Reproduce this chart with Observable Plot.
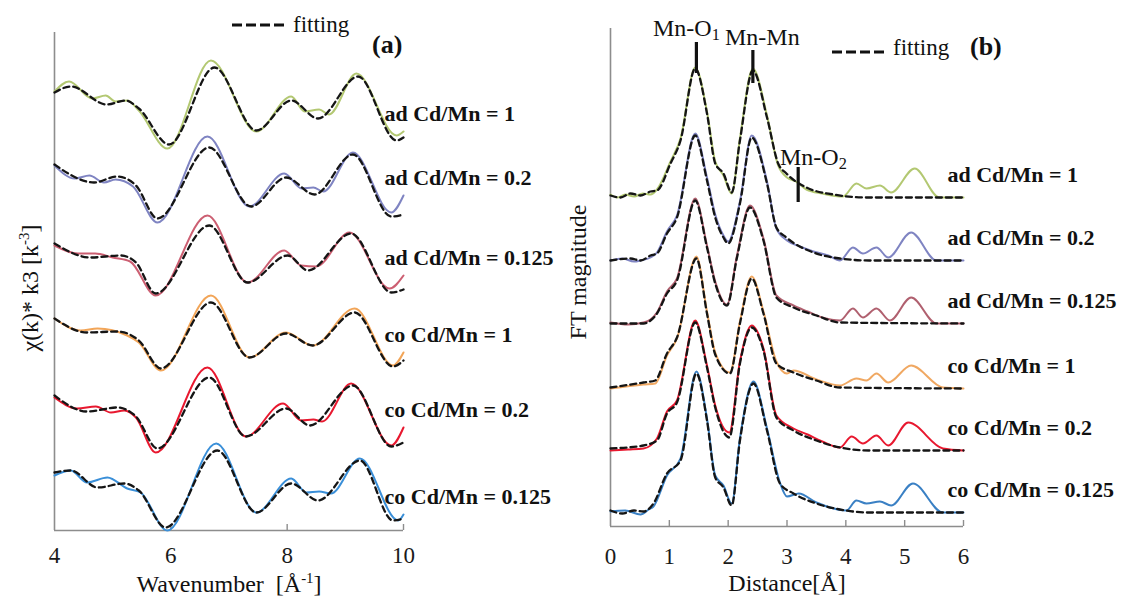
<!DOCTYPE html>
<html><head><meta charset="utf-8">
<script src="https://cdn.jsdelivr.net/npm/d3@7"></script>
<script src="https://cdn.jsdelivr.net/npm/@observablehq/plot@0.6"></script>
<style>
body{margin:0;background:#fff;}
#wrap{position:relative;width:1129px;height:598px;overflow:hidden;font-family:"Liberation Serif","Times New Roman",serif;color:#111;background:#fff;}
.abs{position:absolute;white-space:nowrap;line-height:1;}
.abs sup{font-size:0.62em;position:relative;top:-0.6em;vertical-align:baseline;line-height:0;}
.abs sub{font-size:0.68em;position:relative;top:0.28em;vertical-align:baseline;line-height:0;}
.panel{position:absolute;top:0;}
.panel svg{overflow:visible;}
.panel svg text{font-family:"Liberation Serif","Times New Roman",serif;}
</style></head><body><div id="wrap"></div>
<script>
// ---------- shared ----------
const sampleLabels = ["ad Cd/Mn = 1", "ad Cd/Mn = 0.2", "ad Cd/Mn = 0.125", "co Cd/Mn = 1", "co Cd/Mn = 0.2", "co Cd/Mn = 0.125"];
const colorsA = ["#b3c872", "#7f84c2", "#cc5f72", "#f2a558", "#e8182f", "#3a8fd8"];
const colorsB = ["#b3c872", "#7f84c2", "#b0606f", "#f0a862", "#e8182f", "#3a80c4"];

// ---------- panel (a): k3-weighted chi(k), stacked ----------
const kTicks = [4, 6, 8, 10];
const offsetsA = [42.5, 34.8, 26.8, 19.3, 11.6, 3.8];
const chiExp_ad1 = [[4.0,1.4],[4.25,2.4],[4.65,0.7],[4.88,1.0],[5.05,0.4],[5.25,0.5],[5.45,-0.5],[5.94,-4.3],[6.69,4.5],[7.47,-2.6],[8.07,0.9],[8.30,-0.6],[8.55,-0.4],[8.72,-0.9],[9.19,3.2],[9.88,-3.0],[10.0,-2.6]];
const chiFit_ad1 = [[4.0,1.3],[4.28,1.9],[4.9,0.1],[5.22,0.5],[5.45,-0.3],[5.97,-3.9],[6.75,3.8],[7.47,-2.5],[8.07,0.5],[8.53,-1.3],[9.22,2.9],[9.88,-3.5],[10.0,-3.2]];
const chiExp_ad02 = [[4.0,1.7],[4.35,0.4],[4.6,0.7],[4.85,0.0],[5.05,0.3],[5.35,-0.4],[5.77,-4.0],[6.63,4.6],[7.35,-2.4],[7.95,0.9],[8.25,-0.6],[8.45,-0.5],[8.62,-0.9],[9.13,3.0],[9.79,-3.0],[10.0,-1.3]];
const chiFit_ad02 = [[4.0,1.8],[4.68,0.0],[5.08,0.6],[5.4,-0.3],[5.77,-3.6],[6.66,3.5],[7.38,-2.4],[7.98,0.5],[8.47,-1.2],[9.13,2.8],[9.79,-3.4],[10.0,-3.2]];
const chiExp_ad0125 = [[4.0,1.7],[4.4,0.9],[4.7,0.9],[5.0,0.5],[5.3,0.1],[5.74,-3.3],[6.63,4.7],[7.32,-2.0],[7.95,1.2],[8.24,-0.3],[8.5,-0.4],[9.07,3.0],[9.76,-2.6],[10.0,-1.3]];
const chiFit_ad0125 = [[4.0,1.9],[4.62,0.5],[5.14,0.7],[5.4,0.0],[5.74,-3.1],[6.66,3.7],[7.32,-2.0],[8.01,0.7],[8.36,-0.8],[9.10,2.9],[9.79,-3.0],[10.0,-2.7]];
const chiExp_co1 = [[4.0,1.9],[4.45,0.7],[4.74,0.9],[5.25,0.2],[5.45,-0.5],[5.83,-3.3],[6.69,4.2],[7.35,-2.0],[7.98,0.5],[8.44,-0.8],[9.16,2.9],[9.82,-2.8],[10.0,-1.5]];
const chiFit_co1 = [[4.0,1.9],[4.56,0.5],[5.08,0.6],[5.45,-0.3],[5.83,-3.1],[6.69,3.5],[7.35,-2.0],[7.98,0.4],[8.44,-0.8],[9.16,2.5],[9.82,-2.9],[10.0,-2.3]];
const chiExp_co02 = [[4.0,1.7],[4.39,0.6],[4.71,0.8],[4.97,0.2],[5.2,0.4],[5.4,-0.3],[5.74,-3.8],[6.63,4.7],[7.29,-2.2],[7.93,1.1],[8.24,-0.6],[8.45,-0.5],[8.6,-0.7],[9.10,3.1],[9.79,-3.1],[10.0,-1.3]];
const chiFit_co02 = [[4.0,1.9],[4.56,0.3],[5.08,0.7],[5.4,-0.2],[5.77,-3.4],[6.66,3.7],[7.29,-2.2],[7.98,0.6],[8.39,-1.1],[9.13,2.9],[9.79,-3.2],[10.0,-2.8]];
const chiExp_co0125 = [[4.0,1.7],[4.28,2.2],[4.56,1.0],[4.91,1.5],[5.25,0.4],[5.48,0.0],[5.94,-3.8],[6.78,4.9],[7.47,-2.0],[8.07,1.4],[8.33,0.0],[8.55,0.1],[8.75,-0.1],[9.25,3.4],[9.91,-2.8],[10.0,-2.2]];
const chiFit_co0125 = [[4.0,2.0],[4.28,2.2],[4.74,0.5],[5.2,0.9],[5.45,0.2],[5.91,-3.5],[6.80,4.2],[7.47,-2.0],[8.07,0.9],[8.53,-0.8],[9.25,3.2],[9.82,-2.8],[10.0,-2.6]];

// ---------- panel (b): FT magnitude vs distance, stacked ----------
const rTicks = [0, 1, 2, 3, 4, 5, 6];
const offsetsB = [32.9, 26.6, 20.3, 13.8, 7.6, 1.4];
const ftExp_ad1 = [[0,0.3],[0.12,0.0],[0.25,0.3],[0.4,0.1],[0.55,0.4],[0.68,0.3],[0.79,0.8],[1.02,3.6],[1.19,5.9],[1.44,13.0],[1.64,8.6],[1.78,3.6],[1.92,2.2],[2.06,0.4],[2.2,5.9],[2.42,12.9],[2.66,8.2],[2.85,3.2],[3.0,2.0],[3.15,1.6],[3.33,0.8],[3.6,0.4],[3.95,0.1],[4.18,1.4],[4.35,0.9],[4.58,1.2],[4.77,0.5],[5.17,2.9],[5.59,0.0],[6.0,0.0]];
const ftFit_ad1 = [[0,0.2],[0.17,0.0],[0.34,0.4],[0.51,0.2],[0.68,0.6],[0.79,0.7],[1.02,3.4],[1.19,5.7],[1.44,12.9],[1.64,8.4],[1.78,3.4],[1.92,2.4],[2.06,0.5],[2.2,5.7],[2.42,12.7],[2.66,8.0],[2.85,3.4],[2.99,2.4],[3.33,1.0],[3.79,0.3],[4.35,0.0],[6.0,0.0]];
const ftExp_ad02 = [[0,0.0],[0.2,0.2],[0.4,-0.1],[0.51,0.0],[0.68,0.3],[0.79,0.8],[0.96,2.9],[1.13,4.5],[1.44,12.7],[1.64,8.3],[1.78,4.6],[1.92,2.5],[2.0,1.9],[2.2,5.9],[2.40,12.5],[2.66,7.9],[2.82,3.2],[3.0,2.0],[3.22,1.4],[3.45,0.9],[3.7,0.5],[3.9,0.0],[4.12,1.3],[4.29,0.7],[4.52,1.3],[4.72,0.3],[5.11,2.8],[5.54,0.0],[6.0,0.0]];
const ftFit_ad02 = [[0,0.0],[0.34,0.2],[0.51,0.0],[0.68,0.5],[0.79,0.7],[0.96,2.7],[1.13,4.3],[1.44,12.5],[1.64,8.0],[1.78,4.3],[1.92,2.3],[2.0,1.7],[2.2,5.7],[2.40,12.3],[2.66,7.7],[2.82,3.3],[2.99,2.3],[3.45,0.8],[3.9,0.2],[4.4,0.0],[6.0,0.0]];
const ftExp_ad0125 = [[0,0.1],[0.3,-0.1],[0.56,0.1],[0.68,0.4],[0.79,1.1],[0.96,3.2],[1.13,4.5],[1.44,12.5],[1.64,7.8],[1.78,4.2],[1.98,1.9],[2.15,6.8],[2.37,11.8],[2.60,8.5],[2.82,2.8],[3.11,1.8],[3.35,1.2],[3.6,0.6],[3.9,0.3],[4.12,1.5],[4.29,0.6],[4.52,1.5],[4.75,0.3],[5.11,2.6],[5.54,0.0],[6.0,0.0]];
const ftFit_ad0125 = [[0,0.0],[0.56,0.0],[0.68,0.3],[0.79,1.0],[0.96,3.0],[1.13,4.3],[1.44,12.3],[1.64,7.6],[1.78,4.0],[1.98,1.8],[2.15,6.6],[2.37,11.6],[2.60,8.3],[2.82,2.6],[3.11,1.6],[3.5,0.8],[3.9,0.1],[6.0,0.0]];
const ftExp_co1 = [[0,0.0],[0.56,0.4],[0.76,0.5],[0.96,3.3],[1.13,5.0],[1.46,13.2],[1.64,7.7],[1.78,3.6],[2.03,1.6],[2.20,6.7],[2.40,11.2],[2.60,7.7],[2.82,2.7],[3.0,1.5],[3.11,1.8],[3.5,0.9],[3.9,0.3],[4.18,1.0],[4.35,0.8],[4.52,1.5],[4.72,0.6],[5.11,2.3],[5.65,0.1],[6.0,0.0]];
const ftFit_co1 = [[0,0.1],[0.56,0.6],[0.76,0.8],[0.96,3.5],[1.13,5.1],[1.46,13.0],[1.64,7.5],[1.78,3.4],[2.03,1.5],[2.20,6.5],[2.40,11.0],[2.60,7.5],[2.82,2.5],[3.11,1.6],[3.5,0.8],[3.9,0.1],[6.0,0.0]];
const ftExp_co02 = [[0,0.0],[0.3,0.1],[0.56,0.2],[0.79,1.2],[0.96,3.9],[1.13,5.0],[1.44,13.0],[1.64,8.5],[1.78,4.5],[2.02,1.8],[2.20,8.9],[2.40,12.5],[2.60,10.2],[2.82,3.5],[3.11,2.2],[3.35,1.6],[3.6,0.9],[3.9,0.3],[4.10,1.4],[4.29,0.7],[4.52,1.5],[4.72,0.5],[5.06,2.8],[5.65,0.2],[6.0,0.0]];
const ftFit_co02 = [[0,0.2],[0.56,0.5],[0.79,1.0],[0.96,3.7],[1.13,4.8],[1.44,12.8],[1.64,8.3],[1.78,4.3],[2.02,1.3],[2.20,8.7],[2.40,12.3],[2.60,10.0],[2.82,3.3],[3.11,2.0],[3.5,1.0],[3.9,0.3],[4.4,0.0],[6.0,0.0]];
const ftExp_co0125 = [[0,0.1],[0.25,0.2],[0.51,-0.2],[0.65,0.3],[0.73,0.6],[0.96,3.7],[1.19,5.4],[1.46,14.1],[1.64,9.4],[1.78,3.7],[1.92,2.7],[2.06,0.9],[2.20,7.4],[2.43,13.1],[2.66,8.4],[2.88,3.0],[3.0,1.6],[3.2,1.9],[3.5,1.0],[4.01,0.2],[4.18,1.2],[4.35,0.9],[4.58,1.1],[4.77,0.7],[5.14,2.9],[5.65,0.0],[6.0,0.0]];
const ftFit_co0125 = [[0,0.2],[0.2,-0.1],[0.4,0.2],[0.56,0.1],[0.73,0.9],[0.96,3.9],[1.19,5.2],[1.46,13.9],[1.64,9.2],[1.78,3.5],[1.92,2.5],[2.06,0.7],[2.20,7.2],[2.43,12.9],[2.66,8.2],[2.88,2.9],[3.11,1.9],[3.5,0.9],[3.9,0.3],[4.4,0.0],[6.0,0.0]];

// shell markers (distance, bar bottom, bar top)
const shellNames = ["Mn-O1", "Mn-Mn", "Mn-O2"];
const shellR = [1.46, 2.42, 3.19];
const shellLo = [45.3, 44.3, 32.4];
const shellHi = [48.4, 47.6, 35.9];

// ---------- builder ----------
const wrap = document.getElementById("wrap");
const rows = (pts, off) => pts.map(([x, v]) => ({x, y: off + v}));

function panel(o) {
  const labelRows = o.exp.map((pts, i) => {
    const last = pts[pts.length - 1];
    return {x: last[0], y: o.offsets[i] + last[1], name: sampleLabels[i]};
  });
  const axisGray = "#8d8d8d";
  const svg = Plot.plot({
    width: o.width, height: 598,
    marginLeft: o.mL, marginRight: o.mR, marginTop: o.mT, marginBottom: o.mB,
    style: "font-family: 'Liberation Serif', 'Times New Roman', serif; font-size: 23px; color: #1a1a1a; background: transparent; overflow: visible;",
    x: {domain: o.xDomain, ticks: o.xTicks, tickFormat: d => String(d), tickSize: 0, tickPadding: o.tickPad, label: null},
    y: {domain: [0, o.yMax], axis: null},
    marks: [
      Plot.ruleY([0], {stroke: axisGray, strokeWidth: 1.6}),
      Plot.ruleX([o.xDomain[0]], {stroke: axisGray, strokeWidth: 1.6}),
      Plot.ruleX(o.innerTicks, {y1: 0, y2: 0.6, stroke: axisGray, strokeWidth: 1.4}),
      ...o.exp.map((pts, i) => Plot.line(rows(pts, o.offsets[i]), {x: "x", y: "y", stroke: o.colors[i], strokeWidth: 2, curve: "monotone-x"})),
      ...o.fit.map((pts, i) => Plot.line(rows(pts, o.offsets[i]), {x: "x", y: "y", stroke: "#151515", strokeWidth: 2.3, strokeDasharray: "6,4", curve: "monotone-x"})),
      Plot.text(labelRows, {x: "x", y: "y", text: "name", textAnchor: "start", dx: o.labelDx, dy: o.labelDy, fontWeight: "bold", fontSize: 22, fontFamily: "Liberation Serif", fill: "#111"}),
      ...(o.extra || [])
    ]
  });
  const div = document.createElement("div");
  div.className = "panel";
  div.style.left = o.left + "px";
  div.style.width = o.width + "px";
  div.appendChild(svg);
  wrap.appendChild(div);
}

panel({
  left: 0, width: 560, mL: 54, mR: 157, mT: 32, mB: 68,
  xDomain: [4, 10], xTicks: kTicks, tickPad: 16, innerTicks: [6, 8, 10], yMax: 49.8,
  offsets: offsetsA, colors: colorsA,
  exp: [chiExp_ad1, chiExp_ad02, chiExp_ad0125, chiExp_co1, chiExp_co02, chiExp_co0125],
  fit: [chiFit_ad1, chiFit_ad02, chiFit_ad0125, chiFit_co1, chiFit_co02, chiFit_co0125],
  labelDx: -19, labelDy: -18
});

const shells = shellR.map((r, i) => ({r, lo: shellLo[i], hi: shellHi[i], name: shellNames[i]}));
panel({
  left: 560, width: 569, mL: 50, mR: 166, mT: 28, mB: 72,
  xDomain: [0, 6], xTicks: rTicks, tickPad: 21, innerTicks: [1, 2, 3, 4, 5, 6], yMax: 49.8,
  offsets: offsetsB, colors: colorsB,
  exp: [ftExp_ad1, ftExp_ad02, ftExp_ad0125, ftExp_co1, ftExp_co02, ftExp_co0125],
  fit: [ftFit_ad1, ftFit_ad02, ftFit_ad0125, ftFit_co1, ftFit_co02, ftFit_co0125],
  labelDx: -16, labelDy: -23,
  extra: [Plot.ruleX(shells, {x: "r", y1: "lo", y2: "hi", stroke: "#111", strokeWidth: 3.2})]
});

// ---------- html text: titles, legends, annotations ----------
function txt(html, {x, baseline, size, bold, anchor}) {
  const el = document.createElement("div");
  el.className = "abs";
  el.style.fontSize = size + "px";
  if (bold) el.style.fontWeight = "bold";
  el.style.top = (baseline - 0.838 * size) + "px";
  el.style.left = x + "px";
  if (anchor === "middle") el.style.transform = "translateX(-50%)";
  el.innerHTML = html;
  wrap.appendChild(el);
}
function vtxt(html, {cx, cy, size}) {
  const el = document.createElement("div");
  el.className = "abs";
  el.style.fontSize = size + "px";
  el.style.left = cx + "px";
  el.style.top = cy + "px";
  el.style.transform = "translate(-50%,-50%) rotate(-90deg)";
  el.innerHTML = html;
  wrap.appendChild(el);
}
function dashKey(x, y, w) {
  const ns = "http://www.w3.org/2000/svg";
  const s = document.createElementNS(ns, "svg");
  s.setAttribute("width", w); s.setAttribute("height", 8);
  s.style.position = "absolute"; s.style.left = x + "px"; s.style.top = (y - 4) + "px";
  const l = document.createElementNS(ns, "line");
  l.setAttribute("x1", 0); l.setAttribute("x2", w); l.setAttribute("y1", 4); l.setAttribute("y2", 4);
  l.setAttribute("stroke", "#111"); l.setAttribute("stroke-width", 3); l.setAttribute("stroke-dasharray", "10,4");
  s.appendChild(l); wrap.appendChild(s);
}

// panel (a)
dashKey(232, 25, 52);
txt("fitting", {x: 293, baseline: 32, size: 23});
txt("(a)", {x: 372, baseline: 54, size: 26, bold: true});
txt("Wavenumber&nbsp;&nbsp;[Å<sup>-1</sup>]", {x: 229, baseline: 592, size: 24, anchor: "middle"});
vtxt("χ(k)* k3 [k<sup>-3</sup>]", {cx: 30, cy: 288, size: 24});

// panel (b)
dashKey(832, 52, 55);
txt("fitting", {x: 893, baseline: 55, size: 23});
txt("(b)", {x: 970, baseline: 56, size: 26, bold: true});
txt("Distance[Å]", {x: 787, baseline: 591, size: 24, anchor: "middle"});
vtxt("FT magnitude", {cx: 578, cy: 272, size: 24});
txt("Mn-O<sub>1</sub>", {x: 653, baseline: 36, size: 24});
txt("Mn-Mn", {x: 725, baseline: 45, size: 24});
txt("Mn-O<sub>2</sub>", {x: 780, baseline: 165, size: 24});
</script>
</body></html>
